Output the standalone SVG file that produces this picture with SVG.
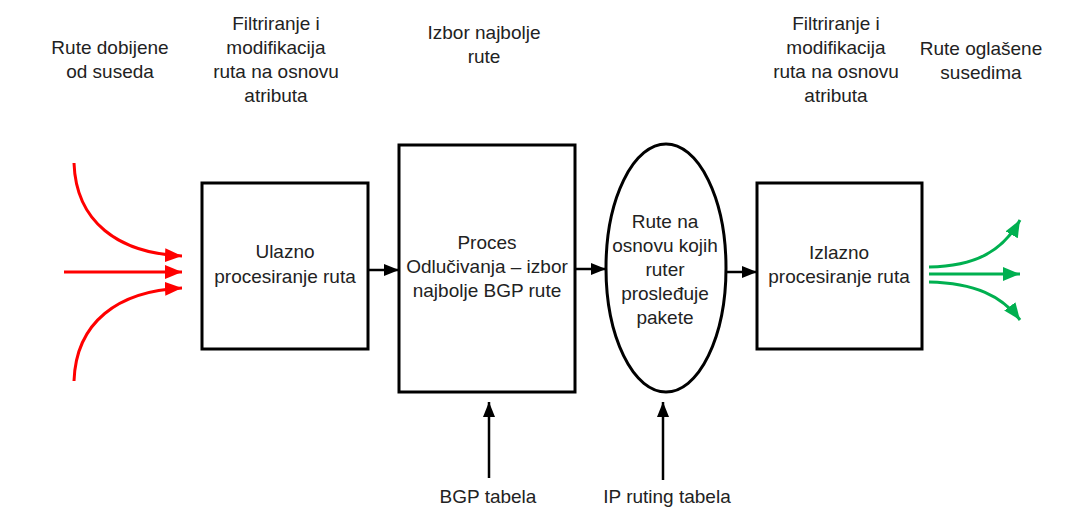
<svg xmlns="http://www.w3.org/2000/svg" width="1077" height="528" viewBox="0 0 1077 528">
<defs>
<style>
text{font-family:"Liberation Sans",Arial,sans-serif;font-size:19px;fill:#222;text-anchor:middle}
.box{fill:#fff;stroke:#000;stroke-width:3}
.blk{stroke:#000;stroke-width:2.5;fill:none}
.red{stroke:#f00;stroke-width:3;fill:none}
.grn{stroke:#00b050;stroke-width:3;fill:none}
</style>
<marker id="ab" markerUnits="userSpaceOnUse" markerWidth="16" markerHeight="12" refX="15" refY="6" orient="auto"><path d="M0,0 L15,6 L0,12 Z" fill="#000"/></marker>
<marker id="ar" markerUnits="userSpaceOnUse" markerWidth="18" markerHeight="14" refX="17" refY="7" orient="auto"><path d="M0,0 L17,7 L0,14 Z" fill="#f00"/></marker>
<marker id="ag" markerUnits="userSpaceOnUse" markerWidth="18" markerHeight="14" refX="17" refY="7" orient="auto"><path d="M0,0 L17,7 L0,14 Z" fill="#00b050"/></marker>
</defs>
<rect width="1077" height="528" fill="#fff"/>
<g id="labels">
<text x="110" y="54">Rute dobijene</text>
<text x="110" y="78">od suseda</text>
<text x="276" y="30">Filtriranje i</text>
<text x="276" y="54">modifikacija</text>
<text x="276" y="78">ruta na osnovu</text>
<text x="276" y="102">atributa</text>
<text x="484" y="39">Izbor najbolje</text>
<text x="484" y="63">rute</text>
<text x="836" y="30">Filtriranje i</text>
<text x="836" y="54">modifikacija</text>
<text x="836" y="78">ruta na osnovu</text>
<text x="836" y="102">atributa</text>
<text x="981" y="55">Rute oglašene</text>
<text x="981" y="79">susedima</text>
</g>
<g id="connectors">
<path class="red" d="M74,163 C76,222 118,253 182,256" marker-end="url(#ar)"/>
<path class="red" d="M64,272 L182,272" marker-end="url(#ar)"/>
<path class="red" d="M74,381 C76,322 118,291 182,288" marker-end="url(#ar)"/>
<path class="blk" d="M368,270 L399,270" marker-end="url(#ab)"/>
<path class="blk" d="M575,269 L606,269" marker-end="url(#ab)"/>
<path class="blk" d="M727,272 L757,272" marker-end="url(#ab)"/>
<path class="blk" d="M489,478 L489,402" marker-end="url(#ab)"/>
<path class="blk" d="M663,480 L663,402" marker-end="url(#ab)"/>
<path class="grn" d="M929,267 C975,266 1002,252 1020,220" marker-end="url(#ag)"/>
<path class="grn" d="M929,274 L1020,274" marker-end="url(#ag)"/>
<path class="grn" d="M929,282 C975,283 1002,296 1020,320" marker-end="url(#ag)"/>
</g>
<g id="ulazno">
<rect class="box" x="202" y="183" width="166" height="166"/>
<text x="285" y="258">Ulazno</text>
<text x="285" y="283">procesiranje ruta</text>
</g>
<g id="proces">
<rect class="box" x="399" y="145" width="176" height="247"/>
<text x="487" y="249">Proces</text>
<text x="487" y="273">Odlučivanja – izbor</text>
<text x="487" y="297">najbolje BGP rute</text>
</g>
<g id="rute">
<ellipse class="box" cx="666" cy="268" rx="60" ry="124"/>
<text x="665" y="228">Rute na</text>
<text x="665" y="252">osnovu kojih</text>
<text x="665" y="276">ruter</text>
<text x="665" y="300">prosleđuje</text>
<text x="665" y="324">pakete</text>
</g>
<g id="izlazno">
<rect class="box" x="757" y="183" width="165" height="166"/>
<text x="839" y="259">Izlazno</text>
<text x="839" y="283">procesiranje ruta</text>
</g>
<g id="bgp">
<text x="488" y="503">BGP tabela</text>
</g>
<g id="ip">
<text x="667" y="503">IP ruting tabela</text>
</g>
</svg>
